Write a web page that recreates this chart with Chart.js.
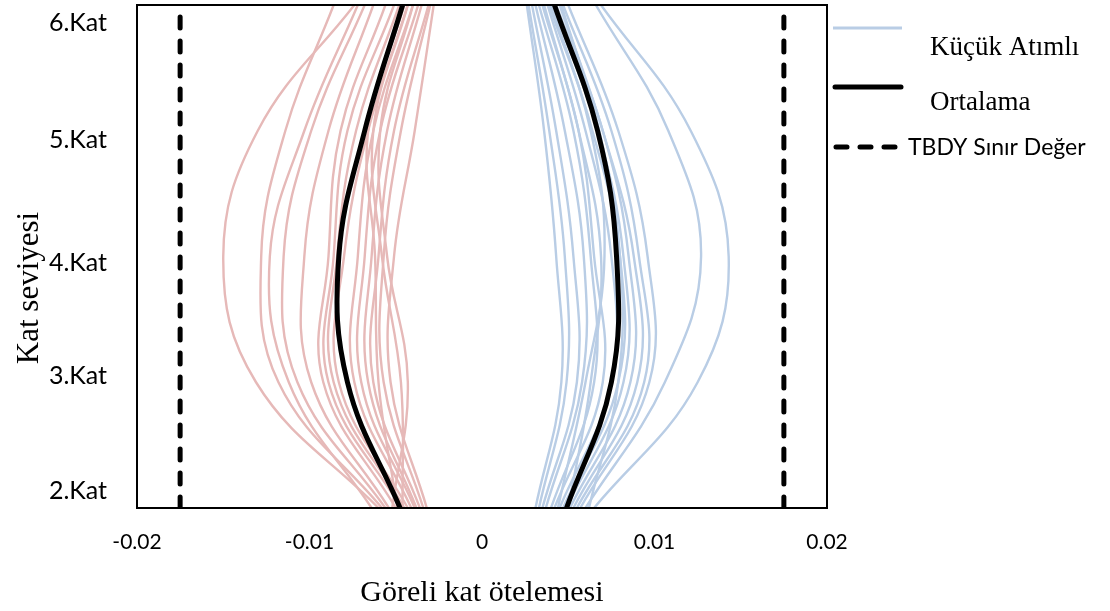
<!DOCTYPE html>
<html>
<head>
<meta charset="utf-8">
<script src="https://cdn.jsdelivr.net/npm/chart.js@4.4.1/dist/chart.umd.min.js"></script>
<style>
  html, body { margin: 0; padding: 0; background: #ffffff; }
  #wrap { width: 1110px; height: 611px; position: relative; }
</style>
</head>
<body>
<div id="wrap"><canvas id="drift"></canvas></div>
<script>
// Storey levels and their names
const levels = [2, 3, 4, 5, 6];
const levelNames = ['2.Kat', '3.Kat', '4.Kat', '5.Kat', '6.Kat'];
// Where each storey name sits on the level axis
const levelLabelAt = [2.135, 3.05, 3.948, 4.926, 5.857];

// Drift axis ticks
const xTicks = [-0.02, -0.01, 0, 0.01, 0.02];
const xTickLabels = ['-0.02', '-0.01', '0', '0.01', '0.02'];

// Interstorey drift ratios per record (values at levels 2..6), positive direction
const driftPositive = [
  [0.0065, 0.0125, 0.0143, 0.0121, 0.0069],
  [0.0060, 0.0106, 0.0127, 0.0108, 0.0066],
  [0.0057, 0.0097, 0.0096, 0.0079, 0.0050],
  [0.0055, 0.0094, 0.0091, 0.0075, 0.0047],
  [0.0053, 0.0090, 0.0088, 0.0070, 0.0045],
  [0.0051, 0.0086, 0.0085, 0.0070, 0.0043],
  [0.0049, 0.0082, 0.0082, 0.0067, 0.0041],
  [0.0047, 0.0079, 0.0080, 0.0064, 0.0040],
  [0.0045, 0.0075, 0.0075, 0.0060, 0.0038],
  [0.0042, 0.0070, 0.0065, 0.0056, 0.0035],
  [0.0040, 0.0065, 0.0063, 0.0053, 0.0033],
  [0.0037, 0.0058, 0.0059, 0.0048, 0.0031],
  [0.0035, 0.0055, 0.0053, 0.0043, 0.0029],
  [0.0033, 0.0049, 0.0048, 0.0039, 0.0027],
  [0.0031, 0.0046, 0.0043, 0.0036, 0.0026],
  [0.0062, 0.0079, 0.0080, 0.0068, 0.0046],
  [0.0050, 0.0063, 0.0069, 0.0056, 0.0036],
  [0.0044, 0.0060, 0.0071, 0.0063, 0.0039]
];

// Same records, negative direction
const driftNegative = [
  [-0.0060, -0.0131, -0.0150, -0.0130, -0.0074],
  [-0.0058, -0.0118, -0.0128, -0.0114, -0.0086],
  [-0.0064, -0.0112, -0.0123, -0.0103, -0.0072],
  [-0.0056, -0.0107, -0.0115, -0.0099, -0.0068],
  [-0.0054, -0.0099, -0.0103, -0.0089, -0.0063],
  [-0.0050, -0.0092, -0.0089, -0.0082, -0.0056],
  [-0.0047, -0.0089, -0.0086, -0.0078, -0.0051],
  [-0.0045, -0.0086, -0.0084, -0.0073, -0.0048],
  [-0.0043, -0.0083, -0.0080, -0.0066, -0.0043],
  [-0.0041, -0.0074, -0.0072, -0.0063, -0.0040],
  [-0.0039, -0.0070, -0.0068, -0.0059, -0.0037],
  [-0.0038, -0.0066, -0.0064, -0.0055, -0.0035],
  [-0.0036, -0.0063, -0.0060, -0.0051, -0.0031],
  [-0.0034, -0.0057, -0.0057, -0.0047, -0.0030],
  [-0.0032, -0.0053, -0.0051, -0.0039, -0.0028],
  [-0.0046, -0.0047, -0.0058, -0.0063, -0.0043],
  [-0.0052, -0.0043, -0.0055, -0.0059, -0.0040],
  [-0.0049, -0.0060, -0.0062, -0.0066, -0.0045]
];

// Average drift profiles
const meanPositive = [0.0049, 0.0075, 0.0078, 0.0067, 0.0042];
const meanNegative = [-0.00475, -0.0078, -0.0083, -0.0068, -0.0046];

// Code limit for drift ratio
const limitValue = 0.0175;

const BLUE = '#b9cde5';
const RED = '#e6b9b8';
const SERIF = '"Liberation Serif", "Times New Roman", serif';
const SANS = 'Lato, "Open Sans", sans-serif';

const profile = (vals) => vals.map((v, i) => ({ x: v, y: levels[i] }));

const datasets = [];
driftNegative.forEach((run) => datasets.push({
  label: 'neg', data: profile(run), borderColor: RED, borderWidth: 2.4,
  tension: 0.4, order: 3
}));
driftPositive.forEach((run) => datasets.push({
  label: 'Küçük Atımlı', data: profile(run), borderColor: BLUE, borderWidth: 2.4,
  tension: 0.4, order: 2
}));
[meanNegative, meanPositive].forEach((m) => datasets.push({
  label: 'Ortalama', data: profile(m), borderColor: '#000000', borderWidth: 5,
  tension: 0.4, order: 1
}));
[-limitValue, limitValue].forEach((lim) => datasets.push({
  label: 'TBDY Sınır Değer',
  data: [{ x: lim, y: levels[0] }, { x: lim, y: levels[levels.length - 1] }],
  borderColor: '#000000', borderWidth: 5, borderDash: [11, 13],
  borderCapStyle: 'round', tension: 0, order: 0
}));

// Plot frame, vertical axis title and the side legend
const decor = {
  id: 'decor',
  afterDatasetsDraw(chart) {
    const { ctx, chartArea: a } = chart;
    ctx.save();
    ctx.strokeStyle = '#000';
    ctx.lineWidth = 2;
    ctx.strokeRect(a.left, a.top, a.right - a.left, a.bottom - a.top);
    ctx.restore();
  },
  afterDraw(chart) {
    const { ctx } = chart;
    ctx.save();
    // vertical axis title
    ctx.translate(30, 288);
    ctx.rotate(-Math.PI / 2);
    ctx.fillStyle = '#000';
    ctx.font = '31px ' + SERIF;
    ctx.textAlign = 'center';
    ctx.textBaseline = 'middle';
    ctx.fillText('Kat seviyesi', 0, 0);
    ctx.restore();

    ctx.save();
    ctx.lineCap = 'butt';
    // Küçük Atımlı
    ctx.strokeStyle = BLUE; ctx.lineWidth = 3;
    ctx.beginPath(); ctx.moveTo(833, 28); ctx.lineTo(902, 28); ctx.stroke();
    // Ortalama
    ctx.strokeStyle = '#000'; ctx.lineWidth = 5; ctx.lineCap = 'round';
    ctx.beginPath(); ctx.moveTo(835, 87); ctx.lineTo(901, 87); ctx.stroke();
    // TBDY Sınır Değer
    ctx.setLineDash([11, 13]);
    ctx.beginPath(); ctx.moveTo(836, 147); ctx.lineTo(897, 147); ctx.stroke();
    ctx.setLineDash([]);

    ctx.fillStyle = '#000';
    ctx.textAlign = 'left';
    ctx.textBaseline = 'alphabetic';
    ctx.font = '27px ' + SERIF;
    ctx.fillText('Küçük Atımlı', 930, 55);
    ctx.fillText('Ortalama', 930, 110);
    ctx.font = '23px ' + SANS;
    ctx.fillText('TBDY Sınır Değer', 908, 155);
    ctx.restore();
  }
};

new Chart(document.getElementById('drift'), {
  type: 'scatter',
  data: { datasets },
  plugins: [decor],
  options: {
    responsive: true,
    maintainAspectRatio: false,
    animation: false,
    showLine: true,
    elements: { point: { radius: 0, hoverRadius: 0 } },
    layout: { padding: { top: 5, right: 283, left: 0, bottom: 0 } },
    plugins: { legend: { display: false }, tooltip: { enabled: false } },
    scales: {
      x: {
        type: 'linear', min: -0.02, max: 0.02,
        grid: { display: false }, border: { display: false },
        afterBuildTicks(scale) { scale.ticks = xTicks.map((v) => ({ value: v })); },
        afterFit(scale) {
          scale.height = 103;
          scale.paddingLeft = 0; scale.paddingRight = 0;
        },
        ticks: {
          padding: 14, color: '#000', font: { family: SANS, size: 21 },
          callback: (v) => xTickLabels[xTicks.indexOf(v)]
        },
        title: {
          display: true, text: 'Göreli kat ötelemesi', color: '#000',
          font: { family: SERIF, size: 30 }, padding: { top: 6, bottom: 0 }
        }
      },
      y: {
        type: 'linear', min: levels[0], max: levels[levels.length - 1],
        grid: { display: false }, border: { display: false },
        afterBuildTicks(scale) { scale.ticks = levelLabelAt.map((v) => ({ value: v })); },
        afterFit(scale) {
          scale.width = 137;
          scale.paddingTop = 0; scale.paddingBottom = 0;
        },
        ticks: {
          padding: 22, color: '#000', font: { family: SANS, size: 25 },
          callback: (v) => levelNames[levelLabelAt.indexOf(v)]
        }
      }
    }
  }
});
</script>
</body>
</html>
